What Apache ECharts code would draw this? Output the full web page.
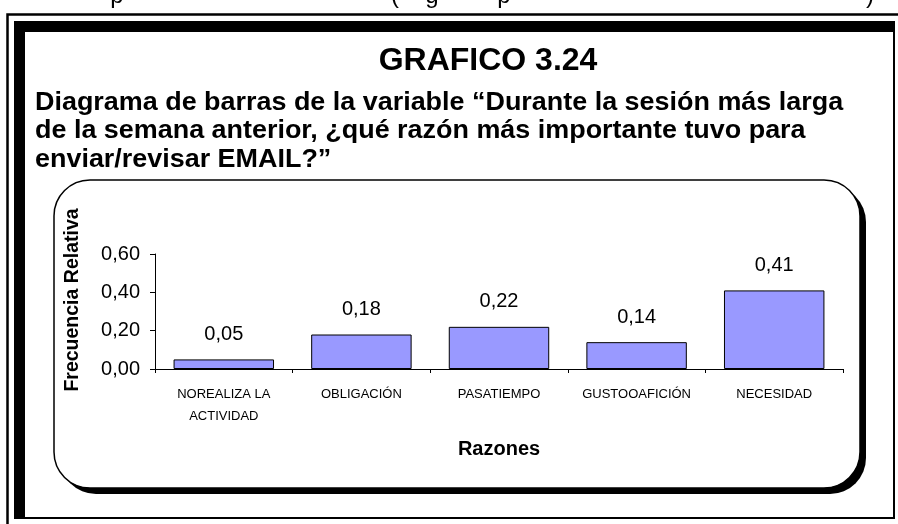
<!DOCTYPE html>
<html>
<head>
<meta charset="utf-8">
<script src="https://cdn.jsdelivr.net/npm/echarts@6/dist/echarts.min.js"></script>
<style>
html,body{margin:0;padding:0;background:#fff;}
#chart{width:898px;height:524px;}
</style>
</head>
<body>
<div id="chart"></div>
<script>
var categories = ['NOREALIZA LA\nACTIVIDAD', 'OBLIGACIÓN', 'PASATIEMPO', 'GUSTOOAFICIÓN', 'NECESIDAD'];
var values = [0.05, 0.18, 0.22, 0.14, 0.41];
var titleText = 'GRAFICO 3.24';
var subtitleLines = [
  'Diagrama de barras de la variable \u201cDurante la sesión más larga',
  'de la semana anterior, ¿qué razón más importante tuvo para',
  'enviar/revisar EMAIL?\u201d'
];
var yAxisTitle = 'Frecuencia Relativa';
var xAxisTitle = 'Razones';

function fmt(v) { return v.toFixed(2).replace('.', ','); }

var chart = echarts.init(document.getElementById('chart'));
var F = 'Arial, "Liberation Sans", sans-serif';

var graphics = [
  // outer thin frame
  { type: 'rect', z: -20, shape: { x: 7.5, y: 14.5, width: 1000, height: 1000 },
    style: { fill: 'none', stroke: '#000', lineWidth: 2.5 } },
  // inner thick/thin frame
  { type: 'rect', z: -19, shape: { x: 14, y: 21, width: 881, height: 498 }, style: { fill: '#000' } },
  { type: 'rect', z: -18, shape: { x: 25, y: 32, width: 868, height: 485 }, style: { fill: '#fff' } },
  // chart box shadow + box
  { type: 'rect', z: -17, shape: { x: 60, y: 186, width: 806, height: 308, r: 36 }, style: { fill: '#000' } },
  { type: 'rect', z: -16, shape: { x: 54, y: 180, width: 806, height: 308, r: 36 },
    style: { fill: '#fff', stroke: '#000', lineWidth: 1.5 } },
  // partial clipped text at top
  { type: 'text', z: 10, x: 117, y: 8, style: { text: 'p', font: '24px ' + F, fill: '#000', textAlign: 'center', textVerticalAlign: 'bottom' } },
  { type: 'text', z: 10, x: 395, y: 8, style: { text: '(', font: '24px ' + F, fill: '#000', textAlign: 'center', textVerticalAlign: 'bottom' } },
  { type: 'text', z: 10, x: 432, y: 8, style: { text: 'g', font: '24px ' + F, fill: '#000', textAlign: 'center', textVerticalAlign: 'bottom' } },
  { type: 'text', z: 10, x: 504, y: 8, style: { text: 'p', font: '24px ' + F, fill: '#000', textAlign: 'center', textVerticalAlign: 'bottom' } },
  { type: 'text', z: 10, x: 870, y: 8, style: { text: ')', font: '24px ' + F, fill: '#000', textAlign: 'center', textVerticalAlign: 'bottom' } },
  // title
  { type: 'text', z: 10, x: 488, y: 61, style: { text: titleText, font: 'bold 32px ' + F, fill: '#000', textAlign: 'center', textVerticalAlign: 'middle' } },
  // axis titles
  { type: 'text', z: 10, x: 73, y: 300, rotation: Math.PI / 2,
    style: { text: yAxisTitle, font: 'bold 19.5px ' + F, fill: '#000', textAlign: 'center', textVerticalAlign: 'middle' } },
  { type: 'text', z: 10, x: 499, y: 449,
    style: { text: xAxisTitle, font: 'bold 20px ' + F, fill: '#000', textAlign: 'center', textVerticalAlign: 'middle' } }
];
subtitleLines.forEach(function (t, i) {
  graphics.push({ type: 'text', z: 10, x: 35, y: 103 + i * 28.5, scaleX: 1.077,
    style: { text: t, font: 'bold 25px ' + F, fill: '#000', textAlign: 'left', textVerticalAlign: 'middle' } });
});

chart.setOption({
  animation: false,
  backgroundColor: '#fff',
  graphic: graphics,
  grid: { left: 155, top: 254, width: 688, height: 115, containLabel: false },
  xAxis: {
    type: 'category',
    data: categories,
    boundaryGap: true,
    axisLine: { show: true, lineStyle: { color: '#000', width: 1 } },
    axisTick: { show: true, alignWithLabel: false, inside: false, length: 4, lineStyle: { color: '#000' } },
    axisLabel: { interval: 0, color: '#000', fontFamily: F, fontSize: 13, lineHeight: 22, margin: 14 },
    splitLine: { show: false }
  },
  yAxis: {
    type: 'value',
    min: 0, max: 0.6, interval: 0.2,
    axisLine: { show: true, lineStyle: { color: '#000', width: 1 } },
    axisTick: { show: true, inside: false, length: 5, lineStyle: { color: '#000' } },
    axisLabel: { color: '#000', fontFamily: F, fontSize: 20, margin: 15, formatter: function (v) { return fmt(v); } },
    splitLine: { show: false }
  },
  series: [{
    type: 'bar',
    data: values,
    barCategoryGap: '27%',
    itemStyle: { color: '#9999FF', borderColor: '#000', borderWidth: 1 },
    label: { show: true, position: 'top', distance: 15, color: '#000', fontFamily: F, fontSize: 20,
      formatter: function (p) { return fmt(p.value); } }
  }]
});
</script>
</body>
</html>
